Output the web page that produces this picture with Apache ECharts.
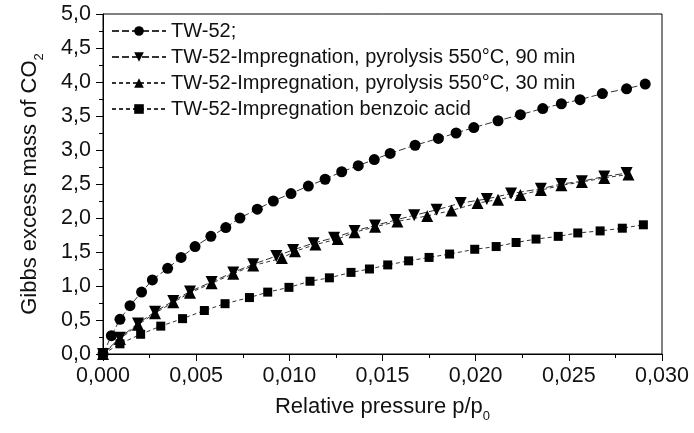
<!DOCTYPE html>
<html><head><meta charset="utf-8">
<script src="https://cdn.jsdelivr.net/npm/echarts@6/dist/echarts.min.js"></script>
<style>html,body{margin:0;padding:0;background:#fff}#c{width:694px;height:433px}</style>
</head><body><div id="c"></div>
<script>
const seriesNames = [
  'TW-52;',
  'TW-52-Impregnation, pyrolysis 550°C, 90 min',
  'TW-52-Impregnation, pyrolysis 550°C, 30 min',
  'TW-52-Impregnation benzoic acid'
];
const xTickLabels = ['0,000','0,005','0,010','0,015','0,020','0,025','0,030'];
const yTickLabels = ['0,0','0,5','1,0','1,5','2,0','2,5','3,0','3,5','4,0','4,5','5,0'];

const xTW52 = [0, 0.00045, 0.00091, 0.00145, 0.00207, 0.00265, 0.00347, 0.00419, 0.00494, 0.00579, 0.00659, 0.00735, 0.00828, 0.00914, 0.01009, 0.01102, 0.01192, 0.01281, 0.0137, 0.01456, 0.01541, 0.01675, 0.018, 0.01895, 0.0199, 0.0212, 0.0224, 0.0236, 0.0246, 0.0256, 0.0268, 0.0281, 0.0291];
const yTW52 = [0, 0.27, 0.51, 0.71, 0.91, 1.09, 1.26, 1.42, 1.58, 1.73, 1.86, 2.00, 2.13, 2.25, 2.36, 2.47, 2.57, 2.68, 2.77, 2.86, 2.95, 3.07, 3.17, 3.25, 3.33, 3.43, 3.52, 3.61, 3.68, 3.74, 3.83, 3.90, 3.97];

const x90 = [0, 0.00091, 0.00188, 0.00279, 0.00377, 0.00467, 0.00583, 0.00699, 0.00806, 0.0093, 0.0102, 0.0113, 0.0124, 0.0135, 0.0146, 0.0157, 0.0167, 0.0179, 0.0192, 0.0206, 0.0219, 0.0235, 0.0246, 0.0257, 0.0269, 0.0281];
const y90 = [0, 0.24, 0.45, 0.62, 0.78, 0.92, 1.06, 1.20, 1.32, 1.44, 1.53, 1.63, 1.71, 1.81, 1.89, 1.97, 2.04, 2.12, 2.22, 2.28, 2.36, 2.43, 2.50, 2.54, 2.61, 2.66];

const x30 = [0, 0.00091, 0.00188, 0.00279, 0.00377, 0.00467, 0.00583, 0.00699, 0.00806, 0.0096, 0.0103, 0.0114, 0.0126, 0.0135, 0.0146, 0.0158, 0.0174, 0.0187, 0.0201, 0.0212, 0.0224, 0.0235, 0.0246, 0.0257, 0.0269, 0.0282];
const y30 = [0, 0.22, 0.43, 0.60, 0.76, 0.90, 1.04, 1.18, 1.30, 1.41, 1.51, 1.61, 1.69, 1.79, 1.87, 1.95, 2.03, 2.11, 2.22, 2.27, 2.34, 2.41, 2.48, 2.53, 2.59, 2.64];

const xBenz = [0, 0.00091, 0.00202, 0.0031, 0.00427, 0.00544, 0.00655, 0.00786, 0.00884, 0.00998, 0.01111, 0.01215, 0.01331, 0.0143, 0.01528, 0.0164, 0.0175, 0.0186, 0.01995, 0.0211, 0.02217, 0.02324, 0.02443, 0.02548, 0.02668, 0.02787, 0.029];
const yBenz = [0, 0.15, 0.29, 0.41, 0.52, 0.64, 0.74, 0.83, 0.91, 0.98, 1.07, 1.12, 1.20, 1.25, 1.31, 1.37, 1.42, 1.47, 1.54, 1.58, 1.64, 1.69, 1.73, 1.78, 1.81, 1.85, 1.90];

const FONT = 'Liberation Sans, Arial, sans-serif';
const zip = (xs, ys) => xs.map((x, i) => [x, ys[i]]);
const lineCol = '#333';
function mk(name, xs, ys, symbol, size, rot, dash) {
  return {
    name, type: 'line', data: zip(xs, ys),
    symbol, symbolSize: size, symbolRotate: rot,
    itemStyle: { color: '#000', borderWidth: 0 },
    lineStyle: { color: lineCol, width: 1, type: dash },
    emphasis: { disabled: true }, animation: false
  };
}
const titleRich = {
  n: { fontFamily: FONT, fontSize: 22, color: '#111', lineHeight: 27, verticalAlign: 'top' },
  s: { fontFamily: FONT, fontSize: 13, color: '#111', lineHeight: 12, verticalAlign: 'bottom' }
};

const chart = echarts.init(document.getElementById('c'), null, { renderer: 'canvas' });
chart.setOption({
  animation: false,
  backgroundColor: '#fff',
  textStyle: { fontFamily: FONT },
  grid: { left: 103, right: 32, top: 14, bottom: 79, show: true, borderColor: '#000', borderWidth: 1 },
  legend: {
    orient: 'vertical', left: 106, top: 16, itemWidth: 54, itemHeight: 12, itemGap: 6,
    textStyle: { fontFamily: FONT, fontSize: 20, color: '#111' },
    data: seriesNames
  },
  xAxis: {
    type: 'value', min: 0, max: 0.030, interval: 0.005,
    name: '{n|Relative pressure p/p}{s|0}', nameLocation: 'middle', nameGap: 42,
    nameTextStyle: { rich: titleRich },
    axisLine: { show: true, onZero: false, lineStyle: { color: '#000', width: 1 } },
    axisTick: { show: true, inside: false, length: 7, lineStyle: { color: '#000' } },
    minorTick: { show: true, splitNumber: 2, length: 4, lineStyle: { color: '#000' } },
    splitLine: { show: false },
    axisLabel: { margin: 11, fontFamily: FONT, fontSize: 21.5, color: '#111',
      formatter: (v) => xTickLabels[Math.round(v / 0.005)] }
  },
  yAxis: {
    type: 'value', min: 0, max: 5, interval: 0.5,
    name: '{n|Gibbs excess mass of CO}{s|2}', nameLocation: 'middle', nameGap: 57, nameRotate: 90,
    nameTextStyle: { rich: titleRich },
    axisLine: { show: true, onZero: false, lineStyle: { color: '#000', width: 1 } },
    axisTick: { show: true, inside: false, length: 7, lineStyle: { color: '#000' } },
    minorTick: { show: true, splitNumber: 2, length: 4, lineStyle: { color: '#000' } },
    splitLine: { show: false },
    axisLabel: { margin: 12, fontFamily: FONT, fontSize: 21.5, color: '#111',
      formatter: (v) => yTickLabels[Math.round(v / 0.5)] }
  },
  series: [
    mk(seriesNames[0], xTW52, yTW52, 'circle', 11, 0, [7, 3]),
    mk(seriesNames[1], x90, y90, 'triangle', 12, 180, [7, 3]),
    mk(seriesNames[2], x30, y30, 'triangle', 12, 0, [4, 3]),
    mk(seriesNames[3], xBenz, yBenz, 'rect', 9, 0, [4, 3])
  ]
});
</script></body></html>
